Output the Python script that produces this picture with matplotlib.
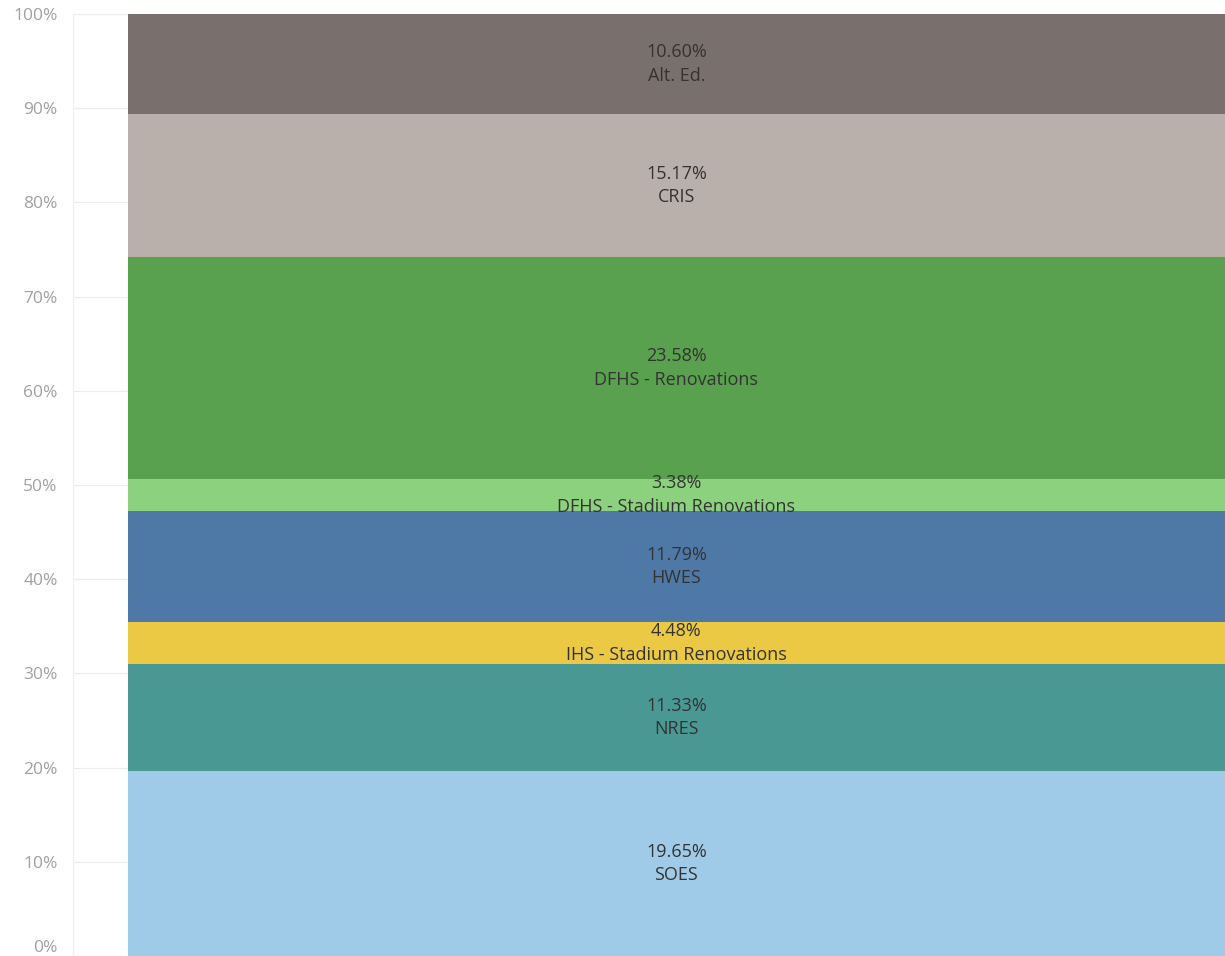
import matplotlib
matplotlib.use("Agg")
import matplotlib.pyplot as plt

categories = ["SOES", "NRES", "IHS - Stadium Renovations", "HWES",
              "DFHS - Stadium Renovations", "DFHS - Renovations", "CRIS", "Alt. Ed."]
values = [19.65, 11.33, 4.48, 11.79, 3.38, 23.58, 15.17, 10.60]
colors = ["#a0cbe8", "#499894", "#ebc944", "#4e79a7", "#8cd17d", "#59a14f", "#bab0ab", "#79706e"]
yticks = [0, 10, 20, 30, 40, 50, 60, 70, 80, 90, 100]
ytick_labels = [f"{t}%" for t in yticks]

plt.rcParams['font.family'] = ['Open Sans', 'DejaVu Sans']

W, H = 1225, 956
fig = plt.figure(figsize=(W / 100, H / 100), dpi=100)
left = 73 / W
top = 14 / H
ax = fig.add_axes([left, 0, 1 - left, 1 - top])

for t in yticks:
    ax.axhline(t, color="#ececec", lw=0.8, zorder=0)

bottom = 0
for cat, v, c in zip(categories, values, colors):
    ax.bar(0, v, width=1, bottom=bottom, align="edge", color=c, zorder=2, linewidth=0)
    ax.text(0.5, bottom + v / 2, f"{v:.2f}%\n{cat}", ha="center", va="center",
            fontsize=13, color="#333333", linespacing=1.4, zorder=3)
    bottom += v

ax.set_xlim(-0.05, 1.0)
ax.set_ylim(0, 100)
ax.set_yticks(yticks)
ax.set_yticklabels(ytick_labels, fontsize=12.5, color="#a0a0a0")
ax.tick_params(axis="y", length=0, pad=11)
ax.set_xticks([])
for s in ["top", "right", "bottom"]:
    ax.spines[s].set_visible(False)
ax.spines["left"].set_color("#eeeeee")
ax.spines["left"].set_linewidth(0.8)
for lbl in ax.get_yticklabels():
    lbl.set_clip_on(False)
ax.get_yticklabels()[0].set_va("bottom")

fig.savefig("out.png", dpi=100)
